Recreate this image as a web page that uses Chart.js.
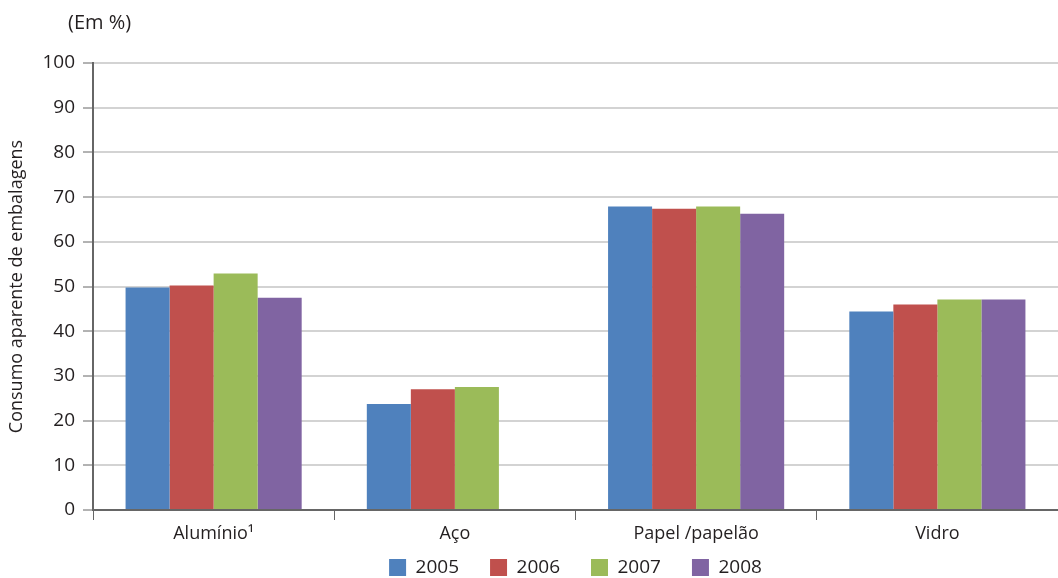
<!DOCTYPE html>
<html>
<head>
<meta charset="utf-8">
<script src="https://cdn.jsdelivr.net/npm/chart.js@4/dist/chart.umd.min.js"></script>
<style>
  html, body { margin: 0; padding: 0; background: #fff; }
  #wrap { width: 1058px; height: 578px; position: relative; }
</style>
</head>
<body>
<div id="wrap"><canvas id="chart"></canvas></div>
<script>
// Data
const categories = ['Alumínio¹', 'Aço', 'Papel /papelão', 'Vidro'];
const years = ['2005', '2006', '2007', '2008'];
const values2005 = [49.8, 23.7, 67.9, 44.4];
const values2006 = [50.2, 27.0, 67.4, 46.0];
const values2007 = [52.9, 27.5, 67.9, 47.1];
const values2008 = [47.5, null, 66.3, 47.1];
const yTicks = [0, 10, 20, 30, 40, 50, 60, 70, 80, 90, 100];

const colors = ['#4f81bd', '#c0504d', '#9bbb59', '#8064a2'];
const fontFamily = '"Open Sans", "Noto Sans", sans-serif';
const textColor = '#231f20';

// "(Em %)" unit label above the y axis
const unitLabel = {
  id: 'unitLabel',
  afterDraw(chart) {
    const ctx = chart.ctx;
    ctx.save();
    ctx.font = '20px ' + fontFamily;
    ctx.fillStyle = textColor;
    ctx.textBaseline = 'middle';
    ctx.textAlign = 'left';
    ctx.fillText('(Em %)', 68, 23);
    ctx.restore();
  }
};

// legend padding is wide for item spacing, so fix its height and pull it up a bit
const legendPlace = {
  id: 'legendPlace',
  afterInit(chart) {
    const legend = chart.legend;
    if (!legend) return;
    const origFit = legend.fit;
    legend.fit = function () {
      origFit.call(this);
      this.height = 32;
    };
  },
  afterLayout(chart) {
    const legend = chart.legend;
    if (!legend) return;
    legend.top = chart.height - 51;
    legend.bottom = chart.height;
  }
};

const seriesList = [values2005, values2006, values2007, values2008];

new Chart(document.getElementById('chart'), {
  type: 'bar',
  data: {
    labels: categories,
    datasets: years.map((y, i) => ({
      label: y,
      data: seriesList[i],
      backgroundColor: colors[i],
      borderWidth: 0,
      barPercentage: 1.0,
      categoryPercentage: 0.73
    }))
  },
  plugins: [unitLabel, legendPlace],
  options: {
    responsive: true,
    maintainAspectRatio: false,
    animation: false,
    layout: { padding: { top: 63, right: 0, left: 0, bottom: 0 } },
    plugins: {
      tooltip: { enabled: false },
      legend: {
        position: 'bottom',
        fullSize: false,
        labels: {
          boxWidth: 17,
          boxHeight: 17,
          padding: 31,
          color: textColor,
          font: { family: fontFamily, size: 19 }
        }
      }
    },
    scales: {
      x: {
        offset: true,
        grid: {
          offset: true,
          drawOnChartArea: false,
          drawTicks: true,
          tickLength: 10,
          tickColor: '#666',
          tickWidth: 1
        },
        border: { display: true, color: '#666', width: 2 },
        ticks: {
          color: textColor,
          padding: 3,
          font: { family: fontFamily, size: 18 }
        },
        afterFit(scale) { scale.height = 36; }
      },
      y: {
        min: 0,
        max: 100,
        afterBuildTicks(scale) { scale.ticks = yTicks.map(v => ({ value: v })); },
        grid: {
          color: '#d3d3d3',
          lineWidth: 2,
          tickLength: 10,
          tickColor: '#666',
          tickWidth: 1
        },
        border: { display: true, color: '#666', width: 2 },
        ticks: {
          color: textColor,
          padding: 8,
          font: { family: fontFamily, size: 19 }
        },
        title: {
          display: true,
          text: 'Consumo aparente de embalagens',
          color: textColor,
          padding: { top: 6, bottom: 0 },
          font: { family: fontFamily, size: 18 }
        },
        afterFit(scale) { scale.width = 93; }
      }
    }
  }
});
</script>
</body>
</html>
